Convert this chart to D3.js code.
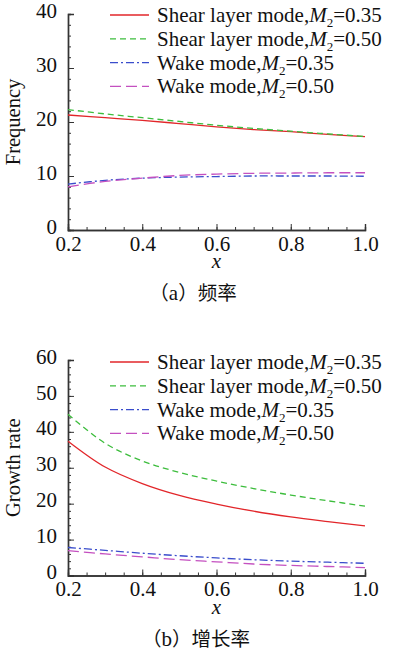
<!DOCTYPE html>
<html>
<head>
<meta charset="utf-8">
<script src="https://cdn.jsdelivr.net/npm/d3@7"></script>
<style>
  body { margin: 0; background: #fff; }
</style>
</head>
<body>
<div id="graph"></div>
<script>
const xs = [0.2, 0.3, 0.4, 0.5, 0.6, 0.7, 0.8, 0.9, 1.0];
const xTicks = [0.2, 0.4, 0.6, 0.8, 1.0];

// (a) frequency
const freqShear035 = [21.3, 20.8, 20.3, 19.7, 19.1, 18.6, 18.2, 17.7, 17.3];
const freqShear050 = [22.3, 21.5, 20.8, 20.1, 19.4, 18.8, 18.3, 17.8, 17.3];
const freqWake035 = [8.5, 9.2, 9.6, 9.8, 9.9, 10.0, 10.0, 10.0, 9.95];
const freqWake050 = [8.0, 9.0, 9.6, 10.1, 10.35, 10.5, 10.55, 10.6, 10.6];
const freqTicks = [0, 10, 20, 30, 40];

// (b) growth rate
const growShear035 = [37.4, 30.2, 25.6, 22.3, 19.9, 17.9, 16.3, 15.0, 13.8];
const growShear050 = [44.9, 36.8, 31.9, 28.7, 26.3, 24.2, 22.4, 20.8, 19.3];
const growWake035 = [7.8, 7.0, 6.2, 5.5, 4.9, 4.4, 4.0, 3.7, 3.4];
const growWake050 = [6.9, 6.0, 5.2, 4.4, 3.8, 3.2, 2.8, 2.5, 2.2];
const growTicks = [0, 10, 20, 30, 40, 50, 60];

const modeNames = ["Shear layer mode,", "Shear layer mode,", "Wake mode,", "Wake mode,"];
const machs = ["0.35", "0.50", "0.35", "0.50"];

const serif = '"Liberation Serif", "Times New Roman", serif';
const cjk = '"Noto Sans CJK SC", sans-serif';

const styles = [
  { color: "#e2262a", dash: null },
  { color: "#3dbd3d", dash: "6,4" },
  { color: "#3a4dcc", dash: "8,3,2,3" },
  { color: "#c450c0", dash: "11,5" }
];

const svg = d3.select("#graph").append("svg")
  .attr("width", 393).attr("height", 653);

function panel(opts) {
  const left = 68, right = 365;
  const x = d3.scaleLinear().domain([0.2, 1.0]).range([left, right]);
  const y = d3.scaleLinear().domain([0, opts.yMax]).range([opts.bottom, opts.top]);
  const g = svg.append("g");
  const axisColor = "#333";

  // minor ticks
  const xMinor = d3.range(0.2, 1.0001, 0.05);
  const yMinor = d3.range(0, opts.yMax + 0.001, 2);

  g.append("g").attr("transform", `translate(0,${opts.bottom})`)
    .call(d3.axisBottom(x).tickValues(xMinor).tickSize(-3).tickFormat(""));
  g.append("g").attr("transform", `translate(${left},0)`)
    .call(d3.axisLeft(y).tickValues(yMinor).tickSize(-3).tickFormat(""));

  g.append("g").attr("transform", `translate(0,${opts.bottom})`)
    .call(d3.axisBottom(x).tickValues(xTicks).tickSize(-6).tickFormat(d3.format(".1f")).tickPadding(8))
    .call(a => a.selectAll("text").attr("dy", "0.6em"));
  g.append("g").attr("transform", `translate(${left},0)`)
    .call(d3.axisLeft(y).tickValues(opts.yTicks).tickSize(-6).tickPadding(11))
    .call(a => a.selectAll("text").attr("dy", "0.15em"));

  g.selectAll("g").attr("font-family", serif).attr("font-size", 21);
  g.selectAll(".domain").attr("stroke", axisColor).attr("stroke-width", 1.4);
  g.selectAll(".tick line").attr("stroke", axisColor).attr("stroke-width", 1);
  g.selectAll(".tick text").attr("fill", "#111");

  // axis titles
  g.append("text")
    .attr("transform", `translate(19.5,${(opts.top + opts.bottom) / 2}) rotate(-90)`)
    .attr("text-anchor", "middle").attr("font-size", 20.5)
    .attr("font-family", serif).attr("fill", "#111")
    .text(opts.yLabel);
  g.append("text")
    .attr("x", (left + right) / 2).attr("y", opts.bottom + 38)
    .attr("text-anchor", "middle").attr("font-size", 21).attr("font-style", "italic")
    .attr("font-family", serif).attr("fill", "#111")
    .text("x");
  const cap = g.append("text")
    .attr("x", opts.capX).attr("y", opts.bottom + 70)
    .attr("text-anchor", "middle").attr("font-size", 19.5)
    .attr("font-family", cjk).attr("fill", "#111");
  cap.append("tspan").text("（");
  cap.append("tspan").attr("font-family", serif).attr("font-size", 21).text(opts.capLetter);
  cap.append("tspan").text("）" + opts.caption);

  // lines
  const line = d3.line()
    .x((d, i) => x(xs[i]))
    .y(d => y(d))
    .curve(d3.curveCatmullRom.alpha(0.5));
  opts.series.forEach((s, k) => {
    g.append("path")
      .attr("d", line(s))
      .attr("fill", "none")
      .attr("stroke", styles[k].color)
      .attr("stroke-width", 1.3)
      .attr("stroke-dasharray", styles[k].dash);
  });

  // legend
  const lg = g.append("g").attr("font-family", serif).attr("fill", "#111");
  opts.series.forEach((s, k) => {
    const ly = opts.legendTop + k * 23.8;
    lg.append("line")
      .attr("x1", 110).attr("x2", 149).attr("y1", ly).attr("y2", ly)
      .attr("stroke", styles[k].color).attr("stroke-width", 1.3)
      .attr("stroke-dasharray", styles[k].dash);
    const t = lg.append("text").attr("x", 157).attr("y", ly + 7).attr("font-size", 21);
    t.append("tspan").text(modeNames[k]);
    t.append("tspan").attr("font-style", "italic").text("M");
    t.append("tspan").attr("font-size", 13).attr("dy", 5).text("2");
    t.append("tspan").attr("dy", -5).text("=" + machs[k]);
  });
}

panel({
  top: 14, bottom: 230, yMax: 40, yTicks: freqTicks, yLabel: "Frequency",
  capLetter: "a", caption: "频率", capX: 193, legendTop: 15,
  series: [freqShear035, freqShear050, freqWake035, freqWake050]
});

panel({
  top: 360, bottom: 575.5, yMax: 60, yTicks: growTicks, yLabel: "Growth rate",
  capLetter: "b", caption: "增长率", capX: 196, legendTop: 362,
  series: [growShear035, growShear050, growWake035, growWake050]
});
</script>
</body>
</html>
